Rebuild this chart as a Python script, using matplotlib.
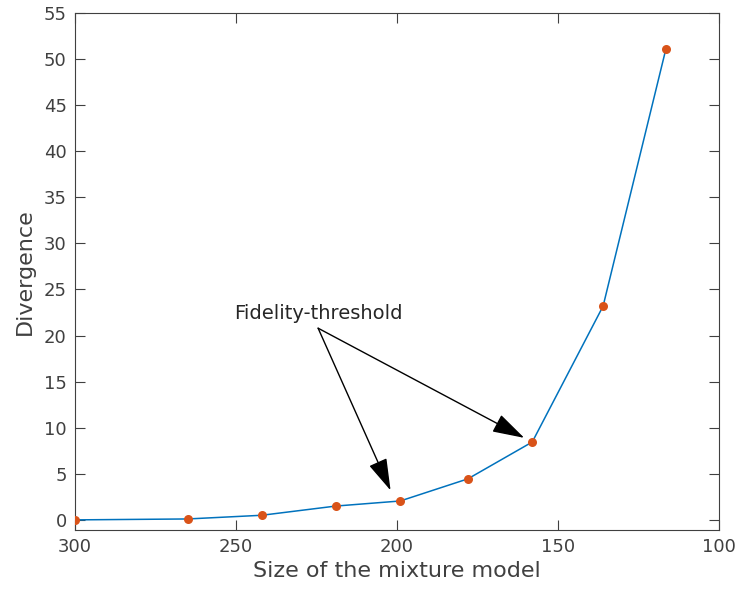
import matplotlib
matplotlib.use('Agg')
import matplotlib.pyplot as plt

# mixture size vs divergence
sizes = [300, 265, 242, 219, 199, 178, 158, 136, 116.5]
divergence = [0.0, 0.1, 0.5, 1.5, 2.05, 4.45, 8.45, 23.2, 51.1]

# annotation: text anchor and the two points it points at
label_text = 'Fidelity-threshold'
label_pos = (224.5, 20.8)
arrow_targets = [(202.0, 3.2), (160.5, 8.9)]

x_ticks = [300, 250, 200, 150, 100]
y_ticks = list(range(0, 56, 5))

dark = '#404040'
plt.rcParams['font.family'] = 'DejaVu Sans'

fig = plt.figure(figsize=(7.38, 5.97), dpi=100)
ax = fig.add_axes([0.1016, 0.1122, 0.8727, 0.866])

ax.plot(sizes, divergence, '-', color='#0072BD', lw=1.1, zorder=2)
ax.plot(sizes, divergence, 'o', color='#D95319', ms=6.5, mec='none', zorder=3)

for tx, ty in arrow_targets:
    ax.annotate('', xy=(tx, ty), xytext=label_pos,
                arrowprops=dict(arrowstyle='-|>,head_length=0.8,head_width=0.24',
                                color='black', lw=1.0,
                                mutation_scale=25, shrinkA=0, shrinkB=0))
ax.text(label_pos[0], label_pos[1] + 0.6, label_text, ha='center', va='bottom',
        fontsize=14, color='#262626')

ax.set_xlim(300, 100)
ax.set_ylim(-1.1, 55)
ax.set_xticks(x_ticks)
ax.set_yticks(y_ticks)
ax.tick_params(direction='in', length=7, width=0.8, top=True, right=True,
               labelsize=13, colors=dark, labelcolor=dark, pad=6)
for s in ax.spines.values():
    s.set_color(dark)
    s.set_linewidth(0.8)

ax.set_xlabel('Size of the mixture model', fontsize=16, color=dark, labelpad=3)
ax.set_ylabel('Divergence', fontsize=16, color=dark, labelpad=6)

fig.savefig('out.png', dpi=100)
